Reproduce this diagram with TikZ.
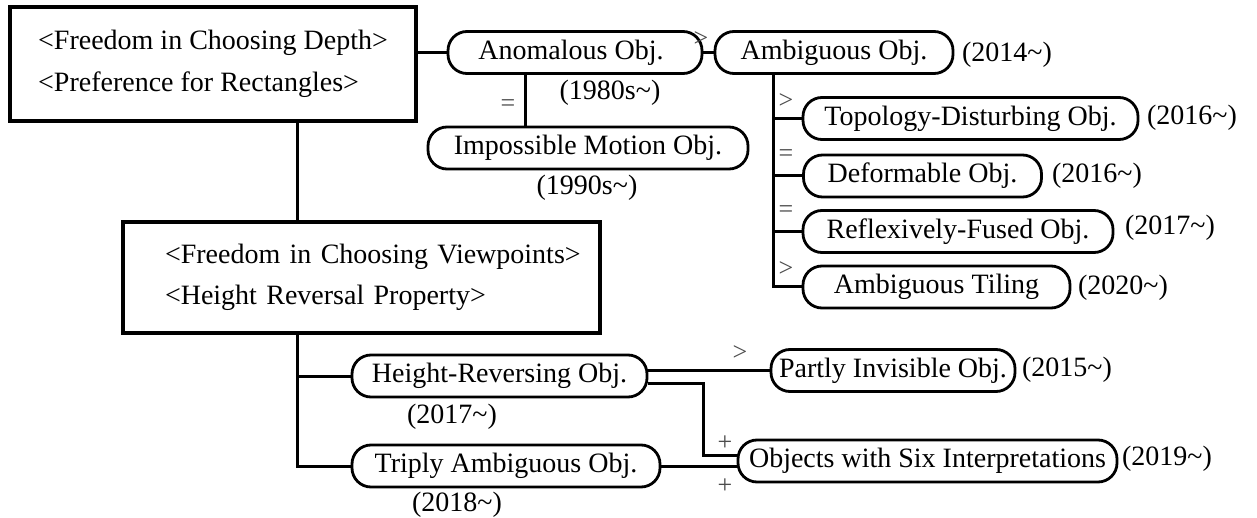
\documentclass[tikz,border=0pt]{standalone}
\usepackage{fontspec}
\setmainfont{Liberation Serif}
\begin{document}
\begin{tikzpicture}[x=1pt,y=-1pt,
  every node/.style={font=\fontsize{28}{41.5}\selectfont},
  conn/.style={line width=3pt},
  obj/.style={draw, line width=2.8pt, rounded corners=19pt, minimum height=42pt, inner sep=0pt},
  bigbox/.style={draw, line width=3.2pt, inner ysep=0pt},
  yr/.style={inner sep=0pt},
  rel/.style={inner sep=0pt, text=black!70, font=\fontsize{26}{28}\selectfont}
]
\useasboundingbox (0,0) rectangle (1257,518);

% boxes
\node[bigbox, minimum width=406pt, minimum height=114pt, align=left] (b1) at (213,64)
  {<Freedom in Choosing Depth>\\<Preference for Rectangles>};
\node[bigbox, text width=477pt, inner xsep=0pt, minimum height=111pt, align=left] (b2) at (361.5,277.5)
  {\hspace*{42pt}<Freedom in Choosing Viewpoints>\\\hspace*{42pt}<Height Reversal Property>};

% object nodes
\node[obj, minimum width=254pt] (anom) at (575,52.5) {\hspace*{-8pt}Anomalous Obj.};
\node[obj, minimum width=238pt] (amb) at (834,52.5) {Ambiguous Obj.};
\node[obj, minimum width=320pt] (imp) at (588,148) {Impossible Motion Obj.};
\node[obj, minimum width=335pt] (topo) at (970.5,118.5) {Topology-Disturbing Obj.};
\node[obj, minimum width=238pt] (defo) at (922.5,176) {Deformable Obj.};
\node[obj, minimum width=310pt] (refl) at (958,231.5) {Reflexively-Fused Obj.};
\node[obj, minimum width=267pt] (tile) at (936.5,287) {Ambiguous Tiling};
\node[obj, minimum width=295pt] (hrev) at (499.5,376) {Height-Reversing Obj.};
\node[obj, minimum width=308pt] (trip) at (506,466) {Triply Ambiguous Obj.};
\node[obj, minimum width=244pt] (part) at (893,370.5) {Partly Invisible Obj.};
\node[obj, minimum width=379pt] (six) at (927.5,461) {Objects with Six Interpretations};

% year labels
\node[yr] (y1) at (610,93) {(1980s\textasciitilde)};
\node[yr] (y2) at (587,188) {(1990s\textasciitilde)};
\node[yr] (y3) at (1007,55) {(2014\textasciitilde)};
\node[yr] (y4) at (1192,118) {(2016\textasciitilde)};
\node[yr] (y5) at (1097,176) {(2016\textasciitilde)};
\node[yr] (y6) at (1170,228) {(2017\textasciitilde)};
\node[yr] (y7) at (1123,288) {(2020\textasciitilde)};
\node[yr] (y8) at (1067,370) {(2015\textasciitilde)};
\node[yr] (y9) at (1167,459) {(2019\textasciitilde)};
\node[yr] (y10) at (452,417) {(2017\textasciitilde)};
\node[yr] (y11) at (457,505) {(2018\textasciitilde)};

% helper coordinates
\coordinate (v1) at (297,0);
\coordinate (v2) at (525,0);
\coordinate (v3) at (773,0);
\coordinate (v4) at (703,0);

% connectors
\draw[conn] (b1.south -| v1) -- (b2.north -| v1);
\draw[conn] (anom.west -| b1.east) -- (anom.west);
\draw[conn] (anom.east) -- (amb.west);
\draw[conn] (anom.south -| v2) -- (imp.north -| v2);
\draw[conn] (amb.south -| v3) |- (tile.west);
\draw[conn] (topo.west -| v3) -- (topo.west);
\draw[conn] (defo.west -| v3) -- (defo.west);
\draw[conn] (refl.west -| v3) -- (refl.west);
\draw[conn] (b2.south -| v1) |- (trip.west);
\draw[conn] (hrev.west -| v1) -- (hrev.west);
\draw[conn] (part.west -| hrev.east) -- (part.west);
\draw[conn] ([yshift=-7pt]hrev.east) -| ([yshift=6pt]six.west -| v4) -- ([yshift=6pt]six.west);
\draw[conn] (trip.east) -- (trip.east -| six.west);

% relation labels
\node[rel] (r1) at (701,39) {>};
\node[rel] (r2) at (508,106) {=};
\node[rel] (r3) at (786,101) {>};
\node[rel] (r4) at (786,156) {=};
\node[rel] (r5) at (786,212) {=};
\node[rel] (r6) at (786,269) {>};
\node[rel] (r7) at (740,353) {>};
\node[rel] (r8) at (725,443) {+};
\node[rel] (r9) at (725,486) {+};
\end{tikzpicture}
\end{document}
